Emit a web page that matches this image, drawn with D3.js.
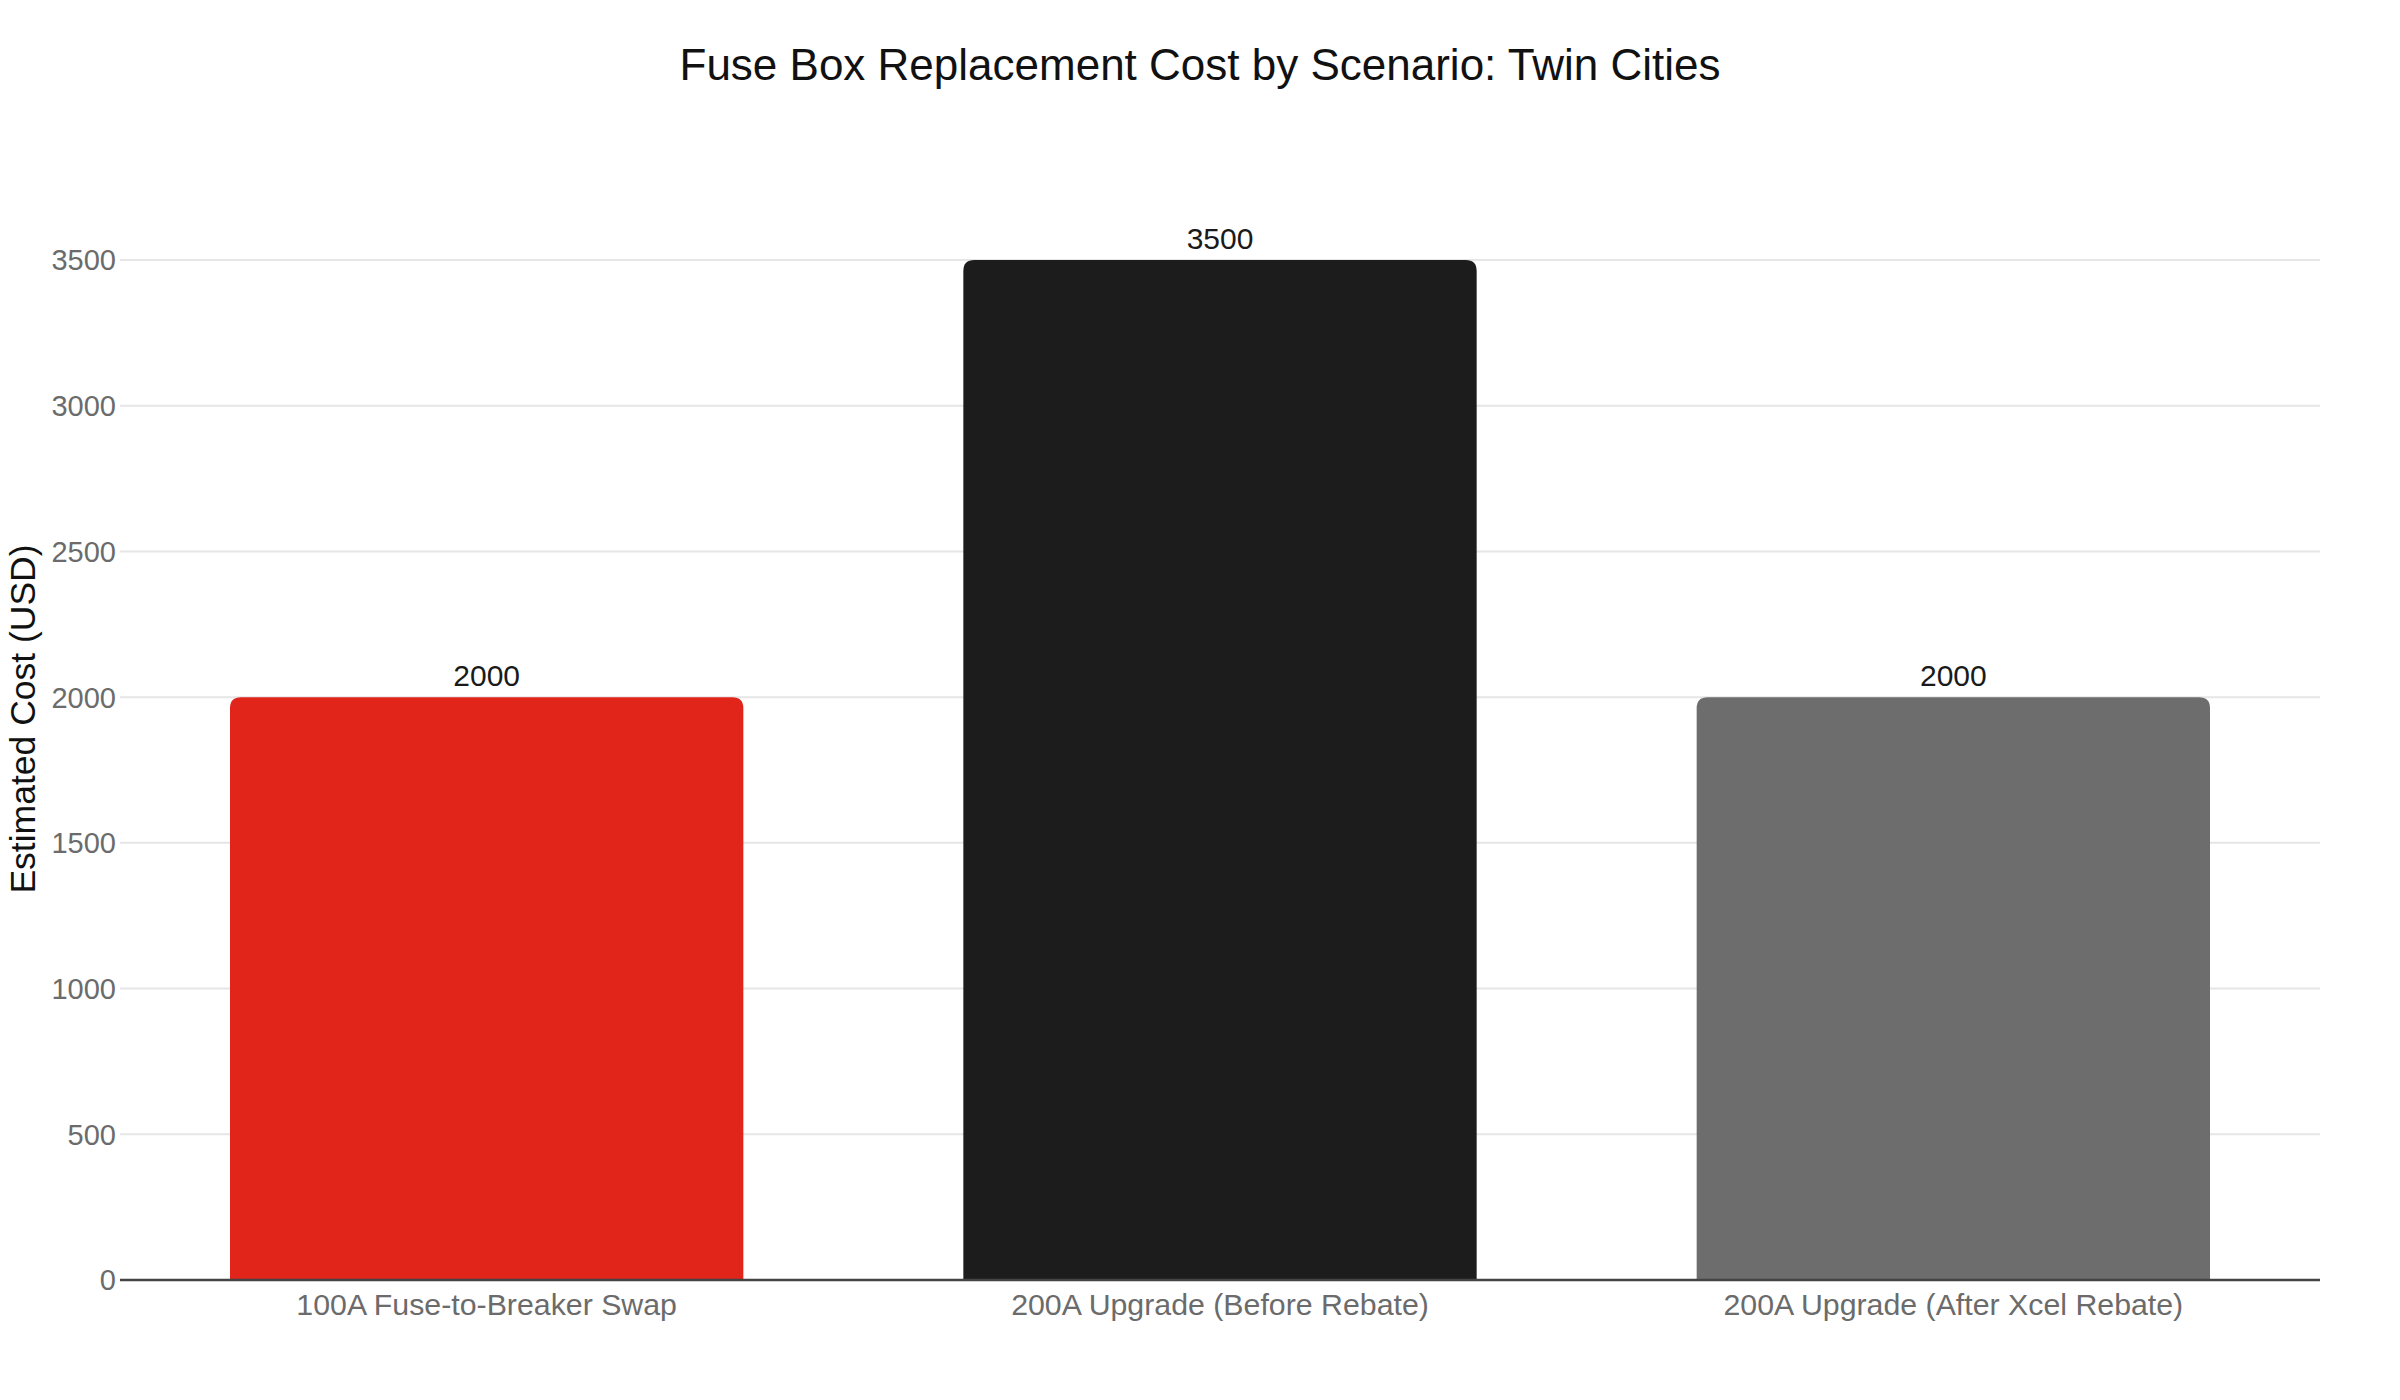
<!DOCTYPE html>
<html>
<head>
<meta charset="utf-8">
<script src="https://cdn.jsdelivr.net/npm/d3@7"></script>
<style>
  html, body { margin: 0; padding: 0; background: #fff; }
  svg { display: block; font-family: "Liberation Sans", Arial, Helvetica, sans-serif; }
</style>
</head>
<body>
<svg id="chart" width="2400" height="1400"></svg>
<script>
const categories = ["100A Fuse-to-Breaker Swap", "200A Upgrade (Before Rebate)", "200A Upgrade (After Xcel Rebate)"];
const costs = [2000, 3500, 2000];
const barColors = ["#e1251b", "#1c1c1c", "#6d6d6d"];
const yTicks = [0, 500, 1000, 1500, 2000, 2500, 3000, 3500];
const titleText = "Fuse Box Replacement Cost by Scenario: Twin Cities";
const yTitle = "Estimated Cost (USD)";

const svg = d3.select("#chart");
const W = 2400, H = 1400;
const m = { left: 120, right: 80, top: 260, bottom: 120 };
const plotBottom = H - m.bottom; // 1280

const x = d3.scaleBand().domain(categories).range([m.left, W - m.right]).paddingInner(0.3).paddingOuter(0.15);
const y = d3.scaleLinear().domain([0, 3500]).range([plotBottom, m.top]);

// gridlines
svg.append("g").selectAll("line").data(yTicks.filter(d => d !== 0)).join("line")
  .attr("x1", m.left).attr("x2", W - m.right)
  .attr("y1", d => y(d)).attr("y2", d => y(d))
  .attr("stroke", "#e6e6e6").attr("stroke-width", 2);

// y tick labels
svg.append("g").selectAll("text").data(yTicks).join("text")
  .attr("x", m.left - 4).attr("y", d => y(d))
  .attr("dy", "0.36em")
  .attr("text-anchor", "end")
  .attr("font-size", 29).attr("fill", "#6b6b6b")
  .text(d => d);

// bars with rounded top corners
const r = 11;
function barPath(x0, w, yTop, yBot) {
  const rr = Math.min(r, (yBot - yTop), w / 2);
  return `M${x0},${yBot} L${x0},${yTop + rr} Q${x0},${yTop} ${x0 + rr},${yTop} L${x0 + w - rr},${yTop} Q${x0 + w},${yTop} ${x0 + w},${yTop + rr} L${x0 + w},${yBot} Z`;
}
svg.append("g").selectAll("path").data(categories).join("path")
  .attr("d", (c, i) => barPath(x(c), x.bandwidth(), y(costs[i]), y(0)))
  .attr("fill", (c, i) => barColors[i]);

// value labels
svg.append("g").selectAll("text").data(categories).join("text")
  .attr("x", c => x(c) + x.bandwidth() / 2)
  .attr("y", (c, i) => y(costs[i]) - 11)
  .attr("text-anchor", "middle")
  .attr("font-size", 30).attr("fill", "#1a1a1a")
  .text((c, i) => costs[i]);

// x axis line
svg.append("line")
  .attr("x1", m.left).attr("x2", W - m.right)
  .attr("y1", y(0)).attr("y2", y(0))
  .attr("stroke", "#444").attr("stroke-width", 2.5);

// x tick labels
svg.append("g").selectAll("text").data(categories).join("text")
  .attr("x", c => x(c) + x.bandwidth() / 2)
  .attr("y", 1315)
  .attr("text-anchor", "middle")
  .attr("font-size", 30.3).attr("fill", "#6b6b6b")
  .text(c => c);

// title
svg.append("text")
  .attr("x", 1200).attr("y", 80)
  .attr("text-anchor", "middle")
  .attr("font-size", 44).attr("fill", "#111")
  .text(titleText);

// y axis title
svg.append("text")
  .attr("transform", "translate(35,719) rotate(-90)")
  .attr("text-anchor", "middle")
  .attr("font-size", 35.5).attr("fill", "#111")
  .text(yTitle);
</script>
</body>
</html>
